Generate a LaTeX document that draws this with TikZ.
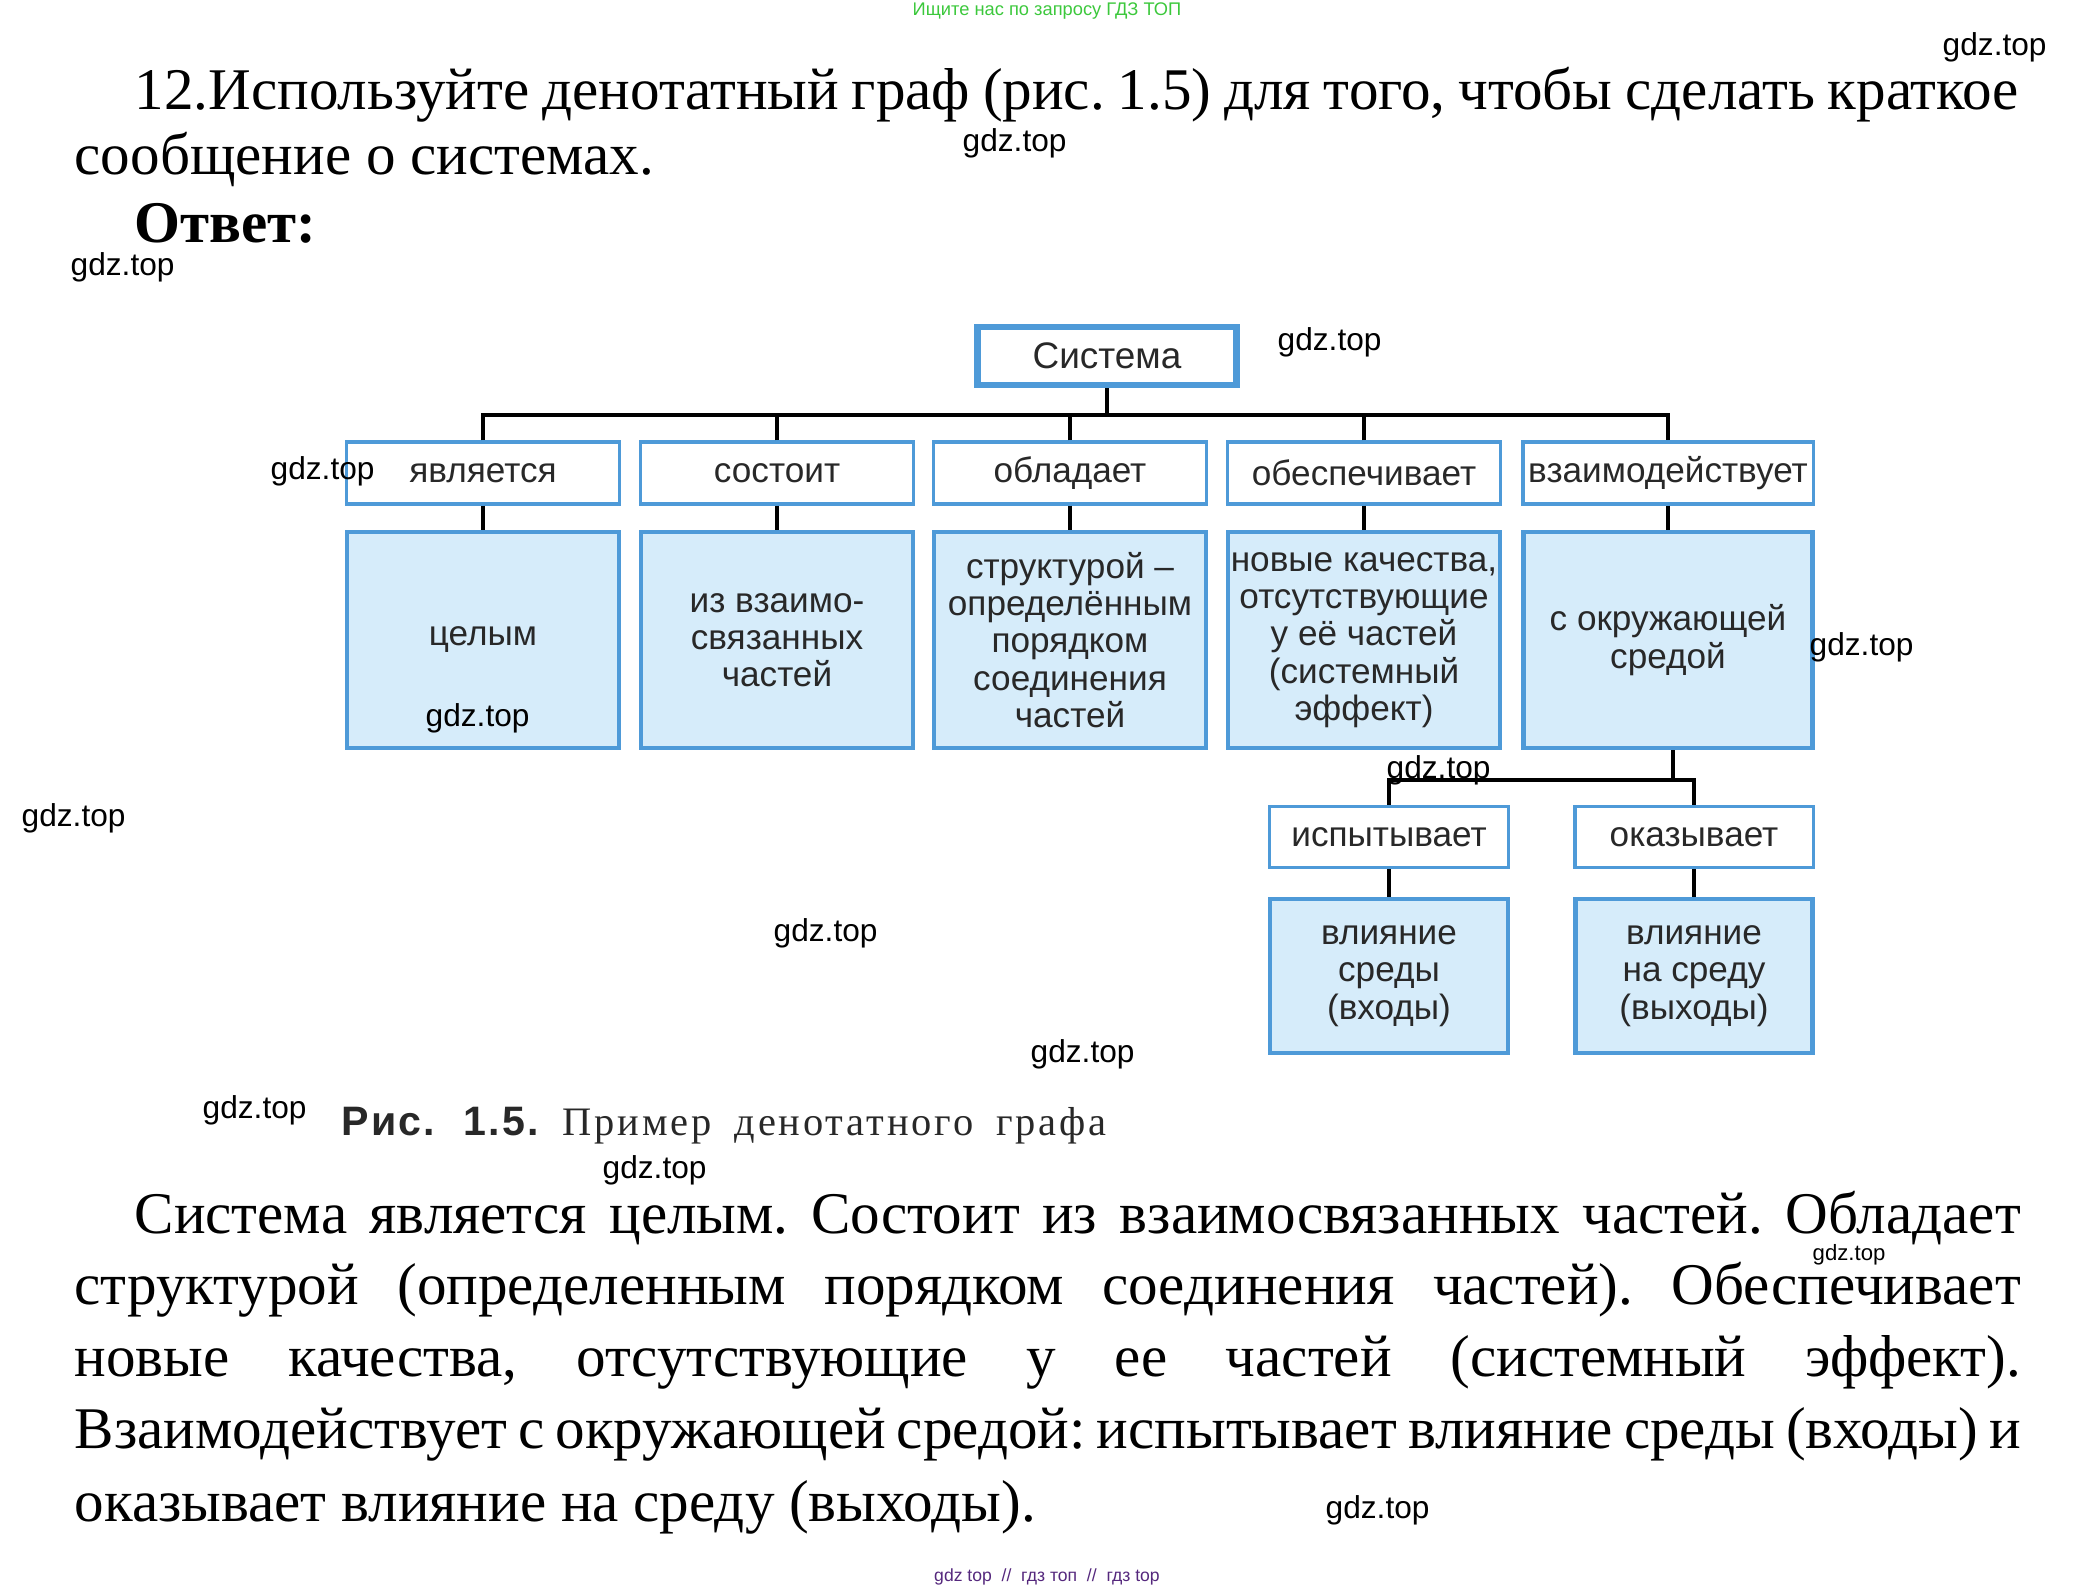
\documentclass[tikz,border=0pt]{standalone}
\usepackage{fontspec}
\setmainfont{Liberation Serif}
\setsansfont{Liberation Sans}
\usetikzlibrary{positioning}
\definecolor{frameblue}{RGB}{78,154,216}
\definecolor{fillblue}{RGB}{214,236,250}
\definecolor{inkgrey}{RGB}{40,40,40}
\definecolor{markgreen}{RGB}{60,200,60}
\definecolor{markviolet}{RGB}{85,40,125}
\frenchspacing

\tikzset{
  headbox/.style={draw=frameblue, line width=1.8pt, fill=white,
    minimum width=2.59cm, minimum height=0.58cm, inner sep=0pt,
    font=\sffamily\fontsize{10.5}{12}\selectfont, text=inkgrey},
  verbbox/.style={draw=frameblue, line width=0.9pt, fill=white,
    minimum width=2.73cm, minimum height=0.62cm, inner sep=0pt,
    font=\sffamily\fontsize{10}{12}\selectfont, text=inkgrey},
  objbox/.style={draw=frameblue, line width=1.2pt, fill=fillblue,
    minimum width=2.72cm, minimum height=2.16cm, inner sep=0pt, align=center,
    font=\sffamily\fontsize{10}{10.6}\selectfont, text=inkgrey},
  link/.style={line width=1.1pt, black},
  wmark/.style={font=\sffamily\fontsize{9}{10}\selectfont, inner sep=0pt, anchor=west},
  bodyline/.style={font=\fontsize{16.8}{20}\selectfont, anchor=base west, inner sep=0pt},
}

\begin{document}
\begin{tikzpicture}[x=0.01cm,y=-0.01cm]
  \useasboundingbox (0,0) rectangle (2097,1592);

  % Task text
  \node[bodyline] (task1) at (134,110)
    {\hbox to 18.83cm{12.Используйте денотатный граф (рис. 1.5) для того, чтобы сделать краткое}};
  \node[bodyline] (task2) at (74,175) {сообщение о системах.};
  \node[bodyline, font=\bfseries\fontsize{16.8}{20}\selectfont] (answer) at (134,243) {Ответ:};

  % Graph: root
  \node[headbox] (sys) at (1107,356) {Система};
  % Verbs
  \node[verbbox] (v1) at (483,473) {является};
  \node[verbbox] (v2) at (777,473) {состоит};
  \node[verbbox] (v3) at (1070,473) {обладает};
  \node[verbbox] (v4) at (1364,473) {обеспечивает};
  \node[verbbox, minimum width=2.90cm] (v5) at (1668,473) {взаимодействует};
  % Objects
  \node[objbox] (o1) at (483,640) {целым};
  \node[objbox] (o2) at (777,640) {из взаимо-\\связанных\\частей};
  \node[objbox] (o3) at (1070,640) {структурой --\\определённым\\порядком\\соединения\\частей};
  \node[objbox] (o4) at (1364,640) {новые качества,\\отсутствующие\\у её частей\\(системный\\эффект)};
  \node[objbox, minimum width=2.89cm] (o5) at (1668,640) {с окружающей\\средой};
  % Second level
  \node[verbbox, minimum width=2.39cm, minimum height=0.61cm] (e1) at (1389,837) {испытывает};
  \node[verbbox, minimum width=2.38cm, minimum height=0.61cm] (e2) at (1694,837) {оказывает};
  \node[objbox, minimum width=2.38cm, minimum height=1.54cm] (f1) at (1389,976) {влияние\\среды\\(входы)};
  \node[objbox, minimum width=2.37cm, minimum height=1.54cm] (f2) at (1694,976) {влияние\\на среду\\(выходы)};

  % Connectors
  \draw[link] (sys.south) -- ++(0,28);
  \draw[link] (v1.north) -- ++(0,-25) -| (v5.north);
  \foreach \n in {2,3,4}
    \draw[link] (v\n.north) -- ++(0,-25);
  \foreach \n in {1,...,5}
    \draw[link] (v\n.south) -- (o\n.north);
  \draw[link] ([xshift=0.05cm]o5.south) -- ++(0,30);
  \draw[link] (e1.north) -- ++(0,-25) -| (e2.north);
  \draw[link] (e1.south) -- (f1.north);
  \draw[link] (e2.south) -- (f2.north);

  % Caption
  \node[anchor=base west, inner sep=0pt, text=inkgrey,
    font=\sffamily\bfseries\fontsize{11.7}{13}\selectfont\addfontfeature{LetterSpace=5}] (figno) at (341,1135)
    {Рис.\hspace{0.7em}1.5.};
  \node[anchor=base west, inner sep=0pt, text=inkgrey,
    font=\fontsize{11.5}{12}\selectfont\addfontfeature{LetterSpace=7}] (figtitle) at (562,1135)
    {Пример\hspace{0.25em} денотатного\hspace{0.25em} графа};

  % Answer text
  \node[bodyline] (ans1) at (134,1233)
    {\hbox to 18.85cm{Система является целым. Состоит из взаимосвязанных частей. Обладает}};
  \node[bodyline] (ans2) at (74,1304)
    {\hbox to 19.45cm{структурой (определенным порядком соединения частей). Обеспечивает}};
  \node[bodyline] (ans3) at (74,1376)
    {\hbox to 19.45cm{новые качества, отсутствующие у ее частей (системный эффект).}};
  \node[bodyline] (ans4) at (74,1448)
    {\hbox to 19.45cm{Взаимодействует с окружающей средой: испытывает влияние среды (входы) и}};
  \node[bodyline] (ans5) at (74,1521) {оказывает влияние на среду (выходы).};

  % Watermarks
  \foreach \wx/\wy [count=\k] in {1942/47,962/143,70/267,1277/342,270/471,425/718,
      1809/647,1386/770,21/818,773/933,1030/1054,202/1110,602/1170,1325/1510}
    \node[wmark] (wm\k) at (\wx,\wy) {gdz.top};
  \node[wmark, font=\sffamily\fontsize{6.3}{7}\selectfont] (wmsmall) at (1812,1255) {gdz.top};
  \node[inner sep=0pt, text=markgreen, font=\sffamily\fontsize{5.2}{6}\selectfont] (topnote)
    at (1047,11) {Ищите нас по запросу ГДЗ ТОП};
  \node[inner sep=0pt, text=markviolet, font=\sffamily\fontsize{5}{6}\selectfont] (botnote)
    at (1047,1577) {gdz top\ \ //\ \ гдз топ\ \ //\ \ гдз top};
\end{tikzpicture}
\end{document}
